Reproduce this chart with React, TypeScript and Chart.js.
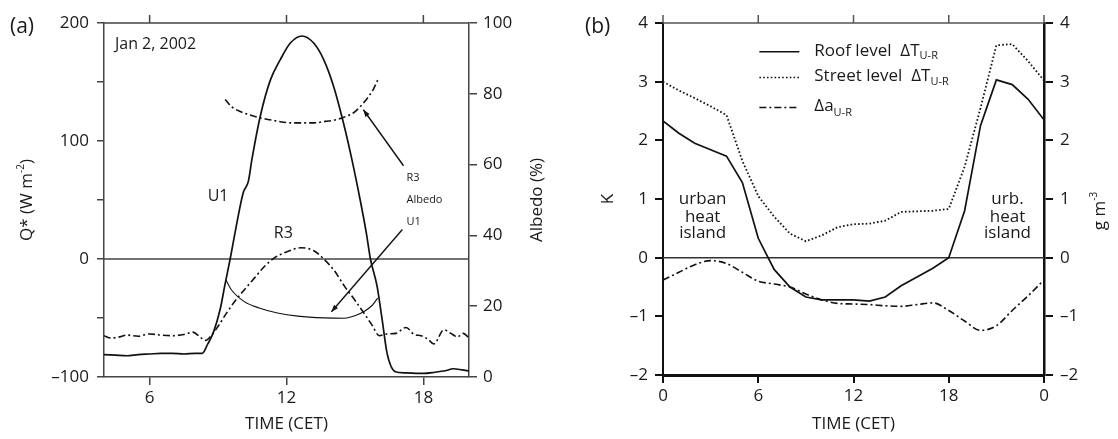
import React, { useEffect, useRef } from 'react';
import { Chart, registerables } from 'chart.js';
Chart.register(...registerables);

const FONT = '"Open Sans", "DejaVu Sans", sans-serif';

// ---------- Panel (a) data ----------
const u1QHours = [4.0, 4.5, 5.0, 5.5, 6.0, 6.5, 7.0, 7.5, 8.0, 8.3, 8.55, 8.8, 9.1, 9.3, 9.53, 9.8, 10.1, 10.33, 10.48, 10.85, 11.3, 11.73, 12.17, 12.68, 13.19, 13.63, 14.07, 14.5, 14.87, 15.23, 15.5, 15.68, 15.97, 16.19, 16.41, 16.77, 17.2, 18.0, 18.5, 19.0, 19.3, 19.7, 20.0];
const u1Q = [-81, -81.5, -82, -81, -80.5, -80, -80, -80.5, -80, -80, -72, -62, -42, -22, 0, 28, 56, 66, 84, 121, 152, 169, 183, 189, 183, 169, 146, 115, 84, 50, 22, 0, -23, -51, -80, -95.5, -96.5, -97, -96, -94.5, -93, -94, -95];

const r3QHours = [4.0, 4.3, 4.7, 5.0, 5.5, 6.0, 6.5, 7.0, 7.5, 7.9, 8.2, 8.45, 8.7, 9.0, 9.4, 9.85, 10.2, 10.6, 11.0, 11.47, 12.0, 12.63, 13.2, 13.66, 14.1, 14.54, 15.0, 15.4, 15.75, 16.07, 16.4, 16.8, 17.24, 17.6, 17.9, 18.2, 18.46, 18.9, 19.2, 19.5, 19.75, 20.0];
const r3Q = [-65, -67, -66, -64.5, -65.5, -63.5, -64.5, -65, -64, -62, -66, -69, -65, -57, -45, -33, -25, -16, -7, 1, 6, 9.5, 7, -0.5, -10, -23, -35, -46, -56, -65, -63.5, -63, -58, -64, -65, -68, -72, -60, -63, -66, -63, -67];

const u1AlbHours = [9.34, 9.6, 10.15, 10.8, 11.6, 12.5, 13.66, 14.54, 15.0, 15.4, 15.75, 16.0];
const u1Alb = [27.5, 24.5, 21.3, 19.5, 18.1, 17.2, 16.7, 16.6, 17.3, 18.5, 20.2, 22.3];

const r3AlbHours = [9.31, 9.6, 9.97, 10.4, 10.85, 11.5, 12.17, 13.2, 13.7, 14.2, 14.6, 14.95, 15.25, 15.5, 15.8, 16.04];
const r3Alb = [78.4, 76.3, 75, 74, 73.2, 72.4, 71.8, 71.8, 72.2, 72.7, 73.6, 74.7, 76.5, 78.4, 81.2, 84.5];

const aTimeTicks = [6, 12, 18];

// ---------- Panel (b) data ----------
const bHours = [0, 1, 2, 3, 4, 5, 6, 7, 8, 9, 10, 11, 12, 13, 14, 15, 16, 17, 18, 19, 20, 21, 22, 23, 24];
const roofDT = [2.33, 2.12, 1.95, 1.84, 1.73, 1.28, 0.33, -0.2, -0.5, -0.67, -0.72, -0.72, -0.72, -0.74, -0.67, -0.48, -0.33, -0.18, 0.0, 0.8, 2.25, 3.03, 2.95, 2.7, 2.35];
const streetDT = [3.0, 2.85, 2.72, 2.58, 2.43, 1.65, 1.05, 0.7, 0.41, 0.28, 0.38, 0.52, 0.57, 0.58, 0.63, 0.78, 0.79, 0.8, 0.83, 1.55, 2.55, 3.62, 3.64, 3.35, 3.02];
const deltaA = [-0.38, -0.25, -0.12, -0.05, -0.1, -0.25, -0.4, -0.45, -0.5, -0.62, -0.72, -0.78, -0.79, -0.8, -0.82, -0.83, -0.8, -0.77, -0.9, -1.08, -1.24, -1.16, -0.9, -0.65, -0.38];
const bTimeTicks = [0, 6, 12, 18, 24];
const bTimeLabels = ['0', '6', '12', '18', '0'];

// ---------- styles ----------
const AX = '#444';
const TXT = '#1a1a1a';
const LINE = '#111';
const DASHDOT = [7, 3, 2, 3];
const DOTTED = [1.6, 2.2];

const dashFmt = (v: number) => String(v).replace('-', '\u2013');

type Part = { t: string; size: number; dy?: number };

function richWidth(ctx: CanvasRenderingContext2D, parts: Part[]) {
  let w = 0;
  for (const p of parts) {
    ctx.font = `${p.size}px ${FONT}`;
    w += ctx.measureText(p.t).width;
  }
  return w;
}

function drawRich(ctx: CanvasRenderingContext2D, x: number, y: number, parts: Part[], align: 'left' | 'center' = 'left', rotate = false) {
  ctx.save();
  ctx.translate(x, y);
  if (rotate) ctx.rotate(-Math.PI / 2);
  ctx.fillStyle = TXT;
  ctx.textBaseline = 'middle';
  ctx.textAlign = 'left';
  const total = richWidth(ctx, parts);
  let cx = align === 'center' ? -total / 2 : 0;
  for (const p of parts) {
    ctx.font = `${p.size}px ${FONT}`;
    ctx.fillText(p.t, cx, p.dy || 0);
    cx += ctx.measureText(p.t).width;
  }
  ctx.restore();
}

function arrowLine(ctx: CanvasRenderingContext2D, x1: number, y1: number, x2: number, y2: number) {
  ctx.beginPath();
  ctx.moveTo(x1, y1);
  ctx.lineTo(x2, y2);
  ctx.stroke();
  const ang = Math.atan2(y2 - y1, x2 - x1);
  const L = 7, W = 2.6;
  ctx.beginPath();
  ctx.moveTo(x2, y2);
  ctx.lineTo(x2 - L * Math.cos(ang) + W * Math.sin(ang), y2 - L * Math.sin(ang) - W * Math.cos(ang));
  ctx.lineTo(x2 - L * Math.cos(ang) - W * Math.sin(ang), y2 - L * Math.sin(ang) + W * Math.cos(ang));
  ctx.closePath();
  ctx.fill();
}

function frameTop(chart: any, ticks: number[], color: string, width: number, len: number) {
  const ctx = chart.ctx as CanvasRenderingContext2D;
  const ca = chart.chartArea;
  const xs = chart.scales.x;
  ctx.save();
  ctx.strokeStyle = color;
  ctx.lineWidth = width;
  ctx.beginPath();
  ctx.moveTo(ca.left, ca.top);
  ctx.lineTo(ca.right, ca.top);
  for (const t of ticks) {
    const px = xs.getPixelForValue(t);
    ctx.moveTo(px, ca.top);
    ctx.lineTo(px, ca.top - len);
  }
  ctx.stroke();
  ctx.restore();
}

function zeroLine(chart: any, color: string, width: number) {
  const ctx = chart.ctx as CanvasRenderingContext2D;
  const ca = chart.chartArea;
  const y0 = chart.scales.y.getPixelForValue(0);
  ctx.save();
  ctx.strokeStyle = color;
  ctx.lineWidth = width;
  ctx.beginPath();
  ctx.moveTo(ca.left, y0);
  ctx.lineTo(ca.right, y0);
  ctx.stroke();
  ctx.restore();
}

const plugA = {
  id: 'panelA',
  beforeDatasetsDraw(chart: any) {
    zeroLine(chart, AX, 1.5);
  },
  afterDraw(chart: any) {
    const ctx = chart.ctx as CanvasRenderingContext2D;
    const ca = chart.chartArea;
    const xs = chart.scales.x, ys = chart.scales.y;
    const P = (h: number, q: number) => [xs.getPixelForValue(h), ys.getPixelForValue(q)];
    frameTop(chart, aTimeTicks, AX, 1.5, 8);

    drawRich(ctx, 10, 27, [{ t: '(a)', size: 21 }]);
    let [x, y] = P(4.48, 182);
    drawRich(ctx, x, y, [{ t: 'Jan 2, 2002', size: 16 }]);
    [x, y] = P(9.0, 53);
    drawRich(ctx, x, y, [{ t: 'U1', size: 16 }], 'center');
    [x, y] = P(11.86, 22);
    drawRich(ctx, x, y, [{ t: 'R3', size: 16 }], 'center');
    [x, y] = P(17.26, 69);
    drawRich(ctx, x, y, [{ t: 'R3', size: 11 }]);
    [x, y] = P(17.26, 50.3);
    drawRich(ctx, x, y, [{ t: 'Albedo', size: 11 }]);
    [x, y] = P(17.26, 31.7);
    drawRich(ctx, x, y, [{ t: 'U1', size: 11 }]);

    ctx.save();
    ctx.strokeStyle = LINE;
    ctx.fillStyle = LINE;
    ctx.lineWidth = 1.4;
    const a1 = P(17.13, 79), a2 = P(15.37, 126.5);
    arrowLine(ctx, a1[0], a1[1], a2[0], a2[1]);
    const b1 = P(17.08, 25), b2 = P(13.97, -44.7);
    arrowLine(ctx, b1[0], b1[1], b2[0], b2[1]);
    ctx.restore();

    const cy = (ca.top + ca.bottom) / 2;
    drawRich(ctx, ca.left - 77, cy, [
      { t: 'Q* (W m', size: 17 },
      { t: '-2', size: 10, dy: -6 },
      { t: ')', size: 17 },
    ], 'center', true);
    drawRich(ctx, ca.right + 68, cy, [{ t: 'Albedo (%)', size: 17 }], 'center', true);
    drawRich(ctx, (ca.left + ca.right) / 2, 424, [{ t: 'TIME (CET)', size: 17 }], 'center');
  },
};

const plugB = {
  id: 'panelB',
  beforeDatasetsDraw(chart: any) {
    zeroLine(chart, '#333', 1.5);
  },
  afterDraw(chart: any) {
    const ctx = chart.ctx as CanvasRenderingContext2D;
    const ca = chart.chartArea;
    const xs = chart.scales.x;
    const ys = chart.scales.y;
    const P = (h: number, v: number) => [xs.getPixelForValue(h), ys.getPixelForValue(v)];
    frameTop(chart, bTimeTicks, '#555', 1.5, 8);

    drawRich(ctx, 25, 27, [{ t: '(b)', size: 21 }]);

    const rows = [
      { v: 3.51, dash: [] as number[], parts: [{ t: 'Roof level  \u0394T', size: 17 }, { t: 'U-R', size: 11, dy: 5 }] },
      { v: 3.07, dash: DOTTED, parts: [{ t: 'Street level  \u0394T', size: 17 }, { t: 'U-R', size: 11, dy: 5 }] },
      { v: 2.56, dash: DASHDOT, parts: [{ t: '\u0394a', size: 17 }, { t: 'U-R', size: 11, dy: 6 }] },
    ];
    for (const r of rows) {
      const [l1, yy] = P(6.07, r.v);
      const [l2] = P(8.59, r.v);
      ctx.save();
      ctx.strokeStyle = LINE;
      ctx.lineWidth = 1.5;
      ctx.setLineDash(r.dash);
      ctx.beginPath();
      ctx.moveTo(l1, yy);
      ctx.lineTo(l2, yy);
      ctx.stroke();
      ctx.restore();
      const [tx] = P(9.53, r.v);
      drawRich(ctx, tx, yy - 1, r.parts);
    }

    const lab1 = ['urban', 'heat', 'island'];
    const lab2 = ['urb.', 'heat', 'island'];
    const lv = [1.0, 0.69, 0.41];
    lab1.forEach((t, i) => {
      const [x, y] = P(2.5, lv[i]);
      drawRich(ctx, x, y, [{ t, size: 17 }], 'center');
    });
    lab2.forEach((t, i) => {
      const [x, y] = P(21.7, lv[i]);
      drawRich(ctx, x, y, [{ t, size: 17 }], 'center');
    });

    const cy = (ca.top + ca.bottom) / 2;
    drawRich(ctx, ca.left - 55, cy, [{ t: 'K', size: 17 }], 'center', true);
    drawRich(ctx, ca.right + 56, cy + 12, [
      { t: 'g m', size: 17 },
      { t: '-3', size: 10, dy: -6 },
    ], 'center', true);
    drawRich(ctx, (ca.left + ca.right) / 2, 424, [{ t: 'TIME (CET)', size: 17 }], 'center');
  },
};

function pts(xs: number[], ys: number[]) {
  return xs.map((x, i) => ({ x, y: ys[i] }));
}

const tickFont = { family: FONT, size: 17 };

export default function App() {
  const refA = useRef<HTMLCanvasElement>(null);
  const refB = useRef<HTMLCanvasElement>(null);

  useEffect(() => {
    const base = {
      responsive: false,
      animation: false,
      plugins: { legend: { display: false }, tooltip: { enabled: false } },
      elements: { point: { radius: 0 } },
    };

    const chartA = new Chart(refA.current as HTMLCanvasElement, {
      type: 'line',
      data: {
        datasets: [
          { label: 'U1 Q*', data: pts(u1QHours, u1Q), yAxisID: 'y', borderColor: LINE, borderWidth: 1.7, pointRadius: 0, cubicInterpolationMode: 'monotone', fill: false },
          { label: 'R3 Q*', data: pts(r3QHours, r3Q), yAxisID: 'y', borderColor: LINE, borderWidth: 1.6, borderDash: DASHDOT, pointRadius: 0, cubicInterpolationMode: 'monotone', fill: false },
          { label: 'U1 Albedo', data: pts(u1AlbHours, u1Alb), yAxisID: 'y2', borderColor: LINE, borderWidth: 1.1, pointRadius: 0, cubicInterpolationMode: 'monotone', fill: false },
          { label: 'R3 Albedo', data: pts(r3AlbHours, r3Alb), yAxisID: 'y2', borderColor: LINE, borderWidth: 1.6, borderDash: DASHDOT, pointRadius: 0, cubicInterpolationMode: 'monotone', fill: false },
        ],
      },
      options: {
        ...base,
        layout: { padding: { top: 23, left: 0, right: 0, bottom: 0 } },
        scales: {
          x: {
            type: 'linear', position: 'bottom', min: 4, max: 20,
            afterBuildTicks: (s: any) => { s.ticks = aTimeTicks.map((v) => ({ value: v })); },
            afterFit: (s: any) => { s.height = 62; },
            grid: { drawOnChartArea: false, tickLength: 8, color: AX, lineWidth: 1.5 },
            border: { color: AX, width: 1.5 },
            ticks: { font: tickFont, color: TXT, padding: 3, maxRotation: 0, autoSkip: false },
          },
          y: {
            type: 'linear', position: 'left', min: -100, max: 200,
            afterFit: (s: any) => { s.width = 104; },
            grid: { drawOnChartArea: false, tickLength: 7, color: AX, lineWidth: 1.5 },
            border: { color: AX, width: 1.5 },
            ticks: { stepSize: 50, font: tickFont, color: TXT, padding: 8, autoSkip: false, callback: (v: any) => (v % 100 === 0 ? dashFmt(v) : '') },
          },
          y2: {
            type: 'linear', position: 'right', min: 0, max: 100,
            afterFit: (s: any) => { s.width = 91; },
            grid: { drawOnChartArea: false, tickLength: 8, color: AX, lineWidth: 1.5 },
            border: { color: AX, width: 1.5 },
            ticks: { stepSize: 20, font: tickFont, color: TXT, padding: 6, autoSkip: false, callback: (v: any) => dashFmt(v) },
          },
        },
      },
      plugins: [plugA],
    } as any);

    const chartB = new Chart(refB.current as HTMLCanvasElement, {
      type: 'line',
      data: {
        datasets: [
          { label: 'Roof level', data: pts(bHours, roofDT), yAxisID: 'y', borderColor: LINE, borderWidth: 1.7, pointRadius: 0, tension: 0, fill: false },
          { label: 'Street level', data: pts(bHours, streetDT), yAxisID: 'y', borderColor: LINE, borderWidth: 1.8, borderDash: DOTTED, pointRadius: 0, tension: 0, fill: false },
          { label: 'Δa', data: pts(bHours, deltaA), yAxisID: 'y2', borderColor: LINE, borderWidth: 1.6, borderDash: DASHDOT, pointRadius: 0, cubicInterpolationMode: 'monotone', fill: false },
        ],
      },
      options: {
        ...base,
        layout: { padding: { top: 23, left: 0, right: 0, bottom: 0 } },
        scales: {
          x: {
            type: 'linear', position: 'bottom', min: 0, max: 24,
            afterBuildTicks: (s: any) => { s.ticks = bTimeTicks.map((v) => ({ value: v })); },
            afterFit: (s: any) => { s.height = 64; },
            grid: { drawOnChartArea: false, tickLength: 8, color: '#111', lineWidth: 2 },
            border: { color: '#111', width: 3 },
            ticks: { font: tickFont, color: TXT, padding: 3, maxRotation: 0, autoSkip: false, callback: (v: any) => bTimeLabels[bTimeTicks.indexOf(v)] ?? '' },
          },
          y: {
            type: 'linear', position: 'left', min: -2, max: 4,
            afterFit: (s: any) => { s.width = 103; },
            grid: { drawOnChartArea: false, tickLength: 8, color: '#111', lineWidth: 2 },
            border: { color: '#111', width: 2 },
            ticks: { stepSize: 1, font: tickFont, color: TXT, padding: 7, autoSkip: false, callback: (v: any) => dashFmt(v) },
          },
          y2: {
            type: 'linear', position: 'right', min: -2, max: 4,
            afterFit: (s: any) => { s.width = 74; },
            grid: { drawOnChartArea: false, tickLength: 9, color: '#111', lineWidth: 2 },
            border: { color: '#111', width: 2.5 },
            ticks: { stepSize: 1, font: tickFont, color: TXT, padding: 7, autoSkip: false, callback: (v: any) => dashFmt(v) },
          },
        },
      },
      plugins: [plugB],
    } as any);

    return () => {
      chartA.destroy();
      chartB.destroy();
    };
  }, []);

  return (
    <div style={{ position: 'fixed', left: 0, top: 0, width: 1118, height: 439, background: '#fff' }}>
      <canvas ref={refA} width={560} height={439} style={{ position: 'absolute', left: 0, top: 0, width: 560, height: 439 }} />
      <canvas ref={refB} width={558} height={439} style={{ position: 'absolute', left: 560, top: 0, width: 558, height: 439 }} />
    </div>
  );
}
